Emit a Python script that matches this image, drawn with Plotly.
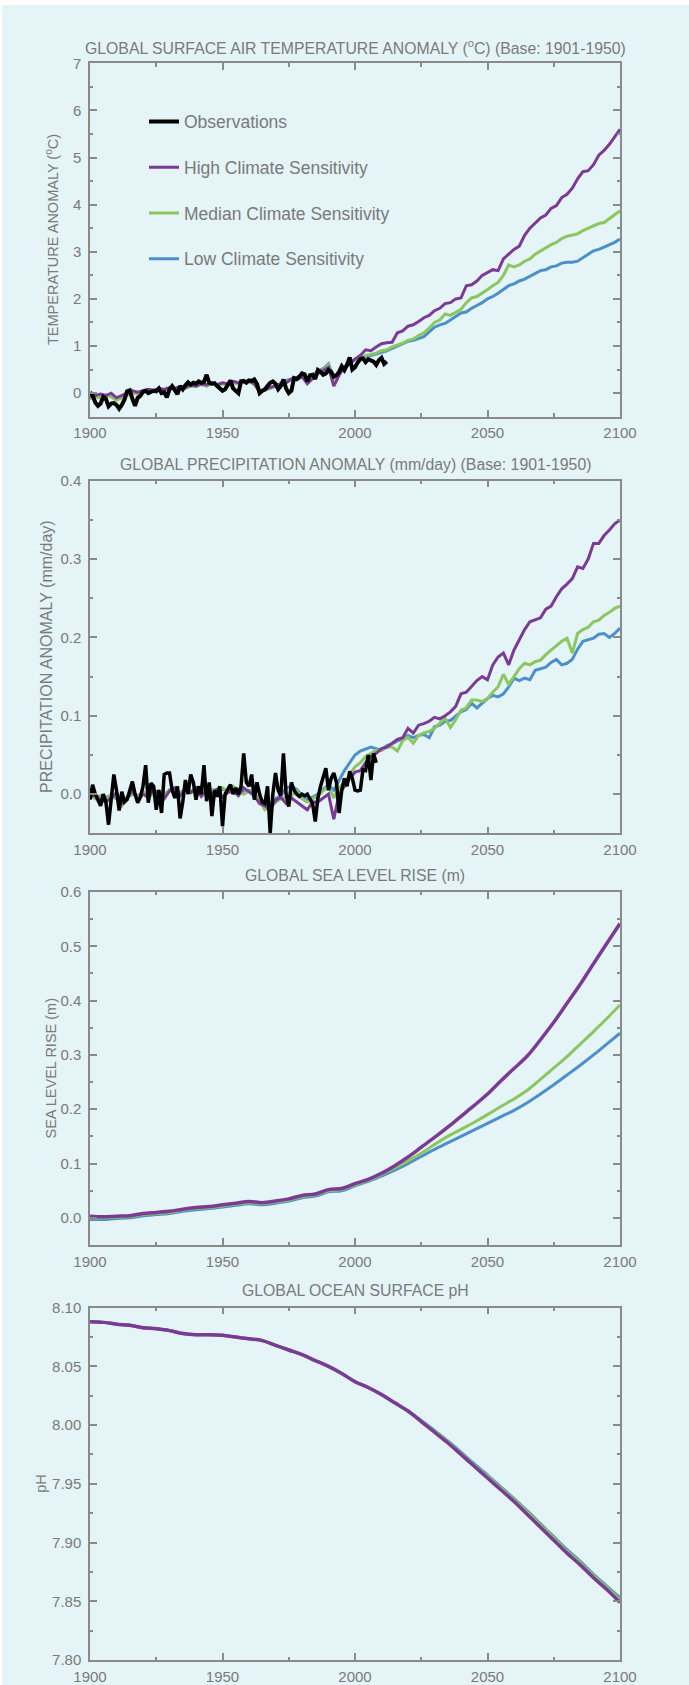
import plotly.graph_objects as go

W, H = 689, 1685

# ---------------- DATA ----------------
years2 = list(range(1900, 2101, 2))
obs_years_t = list(range(1900, 2013))
obs_temp = [0.02, -0.05, -0.2, -0.27, -0.22, -0.08, -0.12, -0.28, -0.22, -0.21,
            -0.25, -0.33, -0.25, -0.14, 0.04, 0.06, -0.12, -0.27, -0.1, -0.06,
            0.03, 0.05, 0.0, 0.02, 0.05, 0.04, 0.1, 0.0, 0.02, -0.09,
            0.08, 0.15, 0.08, -0.02, 0.15, 0.08, 0.17, 0.23, 0.18, 0.22,
            0.2, 0.25, 0.22, 0.24, 0.39, 0.22, 0.2, 0.21, 0.15, 0.11,
            0.05, 0.08, 0.2, 0.27, 0.1, 0.05, 0.0, 0.25, 0.26, 0.22,
            0.27, 0.26, 0.29, 0.2, 0.0, 0.05, 0.08, 0.15, 0.22, 0.25,
            0.2, 0.08, 0.15, 0.29, 0.1, 0.0, 0.05, 0.32, 0.3, 0.35,
            0.42, 0.4, 0.25, 0.38, 0.39, 0.3, 0.49, 0.45, 0.39, 0.42,
            0.49, 0.45, 0.35, 0.38, 0.45, 0.57, 0.49, 0.6, 0.76, 0.5,
            0.55, 0.65, 0.72, 0.74, 0.66, 0.72, 0.7, 0.67, 0.6, 0.7,
            0.75, 0.62, 0.67]

temp_high = [-0.08, -0.05, -0.02, -0.05, 0.0, -0.1, -0.05, 0.0, 0.05, 0.02,
             0.05, 0.08, 0.06, 0.1, 0.08, 0.12, 0.1, 0.14, 0.12, 0.18,
             0.15, 0.2, 0.18, 0.22, 0.18, 0.22, 0.2, 0.25, 0.22, 0.24,
             0.26, 0.2, 0.04, 0.08, 0.12, 0.15, 0.2, 0.22, 0.3, 0.28,
             0.35, 0.2, 0.32, 0.42, 0.48, 0.55, 0.15, 0.38, 0.55, 0.62,
             0.72, 0.8, 0.92, 0.9, 0.98, 1.05, 1.07, 1.08, 1.28, 1.32,
             1.42, 1.45, 1.52, 1.6, 1.65, 1.75, 1.8, 1.9, 1.92, 2.0,
             2.02, 2.28, 2.3, 2.38, 2.5, 2.56, 2.62, 2.6, 2.85, 2.95,
             3.05, 3.12, 3.35, 3.5, 3.62, 3.72, 3.78, 3.92, 3.98, 4.15,
             4.22, 4.35, 4.55, 4.7, 4.72, 4.85, 5.05, 5.15, 5.28, 5.45,
             5.6]
temp_med = [-0.12, -0.08, -0.1, -0.05, -0.08, -0.15, -0.1, -0.05, 0.0, -0.02,
            0.02, 0.05, 0.04, 0.08, 0.06, 0.1, 0.08, 0.12, 0.1, 0.15,
            0.14, 0.18, 0.16, 0.2, 0.17, 0.2, 0.18, 0.22, 0.2, 0.23,
            0.25, 0.18, 0.02, 0.06, 0.1, 0.14, 0.18, 0.25, 0.28, 0.32,
            0.38, 0.3, 0.36, 0.45, 0.5, 0.6, 0.3, 0.42, 0.55, 0.65,
            0.72, 0.75, 0.8, 0.82, 0.85, 0.9, 0.92, 0.98, 1.02, 1.06,
            1.12, 1.15, 1.22, 1.28, 1.38, 1.5, 1.55, 1.68, 1.65, 1.72,
            1.78, 1.92, 2.02, 2.05, 2.12, 2.2, 2.28, 2.35, 2.5, 2.72,
            2.68, 2.72, 2.8, 2.85, 2.95, 3.02, 3.08, 3.15, 3.2, 3.28,
            3.33, 3.36, 3.38, 3.45, 3.5, 3.54, 3.6, 3.62, 3.7, 3.78,
            3.87]
temp_low = [-0.1, -0.06, -0.08, -0.04, -0.05, -0.12, -0.08, -0.03, 0.02, 0.0,
            0.03, 0.06, 0.05, 0.09, 0.07, 0.11, 0.09, 0.13, 0.11, 0.16,
            0.15, 0.19, 0.15, 0.21, 0.18, 0.21, 0.19, 0.23, 0.21, 0.24,
            0.26, 0.2, 0.03, 0.07, 0.11, 0.15, 0.2, 0.27, 0.3, 0.33,
            0.4, 0.32, 0.38, 0.47, 0.52, 0.62, 0.32, 0.45, 0.56, 0.66,
            0.72, 0.74, 0.78, 0.8, 0.83, 0.86, 0.9, 0.95, 1.0, 1.05,
            1.1, 1.12, 1.16, 1.2, 1.3, 1.4, 1.45, 1.48, 1.55, 1.62,
            1.7, 1.72, 1.8, 1.86, 1.92, 2.0, 2.05, 2.12, 2.2, 2.28,
            2.32, 2.38, 2.42, 2.48, 2.55, 2.6, 2.62, 2.68, 2.7, 2.76,
            2.78, 2.78, 2.8, 2.88, 2.95, 3.02, 3.05, 3.1, 3.15, 3.2,
            3.27]

obs_years_p = list(range(1900, 2009))
obs_precip = [-0.007, 0.012, 0.0, -0.009, -0.015, 0.0, -0.01, -0.039, -0.005, 0.025,
              0.005, -0.021, 0.003, -0.01, -0.007, 0.006, 0.016, 0.0, -0.011, -0.004,
              0.01, 0.037, -0.011, 0.014, 0.01, -0.02, 0.005, -0.024, 0.025, 0.027,
              0.027, 0.005, -0.005, 0.01, -0.031, -0.01, 0.018, 0.0, 0.025, 0.015,
              -0.007, 0.01, 0.0, 0.037, -0.009, 0.015, -0.028, 0.005, -0.003, 0.01,
              -0.041, 0.0, 0.005, 0.012, 0.0, 0.008, 0.0, 0.01, 0.052, 0.015,
              0.01, 0.025, -0.007, 0.015, 0.0, -0.01, -0.012, 0.01, -0.05, 0.0,
              0.027, 0.005, -0.002, 0.052, 0.0, -0.016, 0.015, 0.005, 0.0, -0.003,
              0.0, -0.002, 0.0, -0.005, -0.012, -0.035, -0.005, 0.01, 0.02, 0.033,
              0.005, 0.02, 0.027, 0.015, -0.024, 0.005, 0.02, 0.01, 0.029, 0.02,
              0.005, 0.004, 0.005, 0.031, 0.03, 0.05, 0.018, 0.052, 0.04]

precip_high = [-0.005, 0.0, -0.008, -0.01, -0.005, 0.002, -0.012, -0.005, 0.005, -0.008,
               0.0, -0.004, 0.006, 0.0, -0.006, 0.004, 0.008, -0.002, 0.006, 0.002,
               0.008, -0.003, 0.005, 0.0, 0.006, -0.004, 0.002, 0.004, -0.002, 0.008,
               0.003, -0.002, -0.012, -0.015, -0.02, -0.008, -0.004, -0.012, -0.005, -0.01,
               -0.015, -0.02, -0.01, -0.01, -0.005, 0.0, -0.032, 0.0, 0.01, 0.02,
               0.028, 0.03, 0.04, 0.048, 0.052, 0.058, 0.06, 0.065, 0.07, 0.072,
               0.084, 0.078, 0.088, 0.09, 0.093, 0.098, 0.096, 0.1, 0.105, 0.112,
               0.128, 0.13, 0.138, 0.145, 0.15, 0.146, 0.165, 0.175, 0.18, 0.165,
               0.184, 0.197, 0.21, 0.22, 0.222, 0.225, 0.236, 0.24, 0.252, 0.262,
               0.268, 0.275, 0.29, 0.288, 0.3, 0.32, 0.32, 0.33, 0.337, 0.345,
               0.35]
precip_med = [0.0, -0.006, -0.002, -0.008, 0.0, -0.004, -0.015, -0.005, 0.002, -0.004,
              0.004, -0.006, 0.002, 0.005, -0.002, 0.006, 0.004, 0.0, 0.008, 0.004,
              0.003, 0.006, 0.002, 0.006, 0.004, 0.008, 0.003, 0.01, 0.005, 0.0,
              0.004, 0.0, -0.008, -0.02, -0.015, -0.01, -0.006, -0.004, -0.002, 0.004,
              -0.006, -0.01, -0.006, -0.002, 0.004, 0.01, -0.005, 0.008, 0.015, 0.025,
              0.035, 0.04, 0.048, 0.052, 0.056, 0.056, 0.06, 0.06, 0.055, 0.068,
              0.073, 0.065, 0.075, 0.078, 0.08, 0.084, 0.09, 0.097, 0.085, 0.095,
              0.107, 0.11, 0.12, 0.12, 0.118, 0.122, 0.13, 0.137, 0.153, 0.14,
              0.15, 0.16, 0.167, 0.165, 0.169, 0.171, 0.178, 0.184, 0.19, 0.195,
              0.199, 0.18, 0.205, 0.21, 0.213, 0.22, 0.222, 0.228, 0.232, 0.237,
              0.24]
precip_low = [-0.004, -0.002, -0.006, -0.004, -0.002, -0.006, -0.01, -0.004, 0.0, -0.002,
              0.002, -0.004, 0.004, 0.002, 0.0, 0.004, 0.006, 0.002, 0.006, 0.002,
              0.005, 0.004, 0.004, 0.005, 0.006, 0.006, 0.004, 0.008, 0.006, 0.002,
              0.005, 0.0, -0.006, -0.015, -0.012, -0.006, -0.002, 0.008, 0.01, 0.006,
              -0.002, -0.008, -0.004, 0.0, 0.006, 0.012, 0.005, 0.018, 0.03, 0.04,
              0.05, 0.055, 0.058, 0.06, 0.058, 0.056, 0.062, 0.064, 0.068, 0.07,
              0.075, 0.072, 0.075, 0.076, 0.072, 0.086, 0.088, 0.093, 0.094, 0.1,
              0.105, 0.108, 0.116, 0.11, 0.116, 0.122, 0.126, 0.124, 0.128, 0.137,
              0.148, 0.145, 0.148, 0.146, 0.158, 0.16, 0.162, 0.168, 0.172, 0.165,
              0.167, 0.172, 0.185, 0.195, 0.197, 0.199, 0.204, 0.205, 0.2, 0.205,
              0.212]

years5 = list(range(1900, 2101, 5))
sea_high = [0.003, 0.002, 0.003, 0.004, 0.008, 0.01, 0.012, 0.016, 0.019, 0.021,
            0.024, 0.027, 0.03, 0.028, 0.031, 0.035, 0.041, 0.044, 0.052, 0.054,
            0.063, 0.071, 0.082, 0.096, 0.112, 0.13, 0.148, 0.167, 0.187, 0.207,
            0.228, 0.252, 0.275, 0.298, 0.328, 0.36, 0.395, 0.43, 0.468, 0.505,
            0.542]
sea_med = [0.0, 0.0, 0.001, 0.002, 0.006, 0.008, 0.01, 0.014, 0.017, 0.019,
           0.022, 0.025, 0.028, 0.026, 0.029, 0.033, 0.039, 0.042, 0.05, 0.052,
           0.061, 0.069, 0.08, 0.092, 0.105, 0.119, 0.135, 0.15, 0.163, 0.176,
           0.19, 0.205, 0.219, 0.235, 0.255, 0.276, 0.297, 0.32, 0.343, 0.367,
           0.392]
sea_low = [-0.003, -0.003, -0.001, 0.0, 0.004, 0.006, 0.008, 0.012, 0.015, 0.017,
           0.02, 0.023, 0.026, 0.024, 0.027, 0.031, 0.037, 0.04, 0.048, 0.05,
           0.059, 0.067, 0.077, 0.088, 0.1, 0.113, 0.126, 0.138, 0.15, 0.162,
           0.174, 0.186, 0.198, 0.212, 0.228, 0.245, 0.263, 0.281, 0.3, 0.32,
           0.34]

ph_high = [8.088, 8.0875, 8.086, 8.085, 8.083, 8.082, 8.0805, 8.078, 8.077, 8.077,
           8.0765, 8.075, 8.0735, 8.072, 8.068, 8.064, 8.06, 8.055, 8.05, 8.044,
           8.037, 8.032, 8.026, 8.019, 8.012, 8.003, 7.994, 7.985, 7.975, 7.965,
           7.955, 7.945, 7.935, 7.924, 7.913, 7.902, 7.891, 7.881, 7.870, 7.860,
           7.849]
ph_med = [8.088, 8.0875, 8.086, 8.085, 8.083, 8.082, 8.0805, 8.078, 8.077, 8.077,
          8.0765, 8.075, 8.0735, 8.072, 8.068, 8.064, 8.06, 8.055, 8.05, 8.044,
          8.037, 8.032, 8.026, 8.019, 8.012, 8.0035, 7.995, 7.986, 7.976, 7.966,
          7.9565, 7.9465, 7.9365, 7.926, 7.915, 7.904, 7.893, 7.883, 7.872, 7.862,
          7.851]
ph_low = [8.088, 8.0875, 8.086, 8.085, 8.083, 8.082, 8.0805, 8.078, 8.077, 8.077,
          8.0765, 8.075, 8.0735, 8.072, 8.068, 8.064, 8.06, 8.055, 8.05, 8.044,
          8.037, 8.032, 8.026, 8.019, 8.012, 8.004, 7.9955, 7.9865, 7.977, 7.967,
          7.9575, 7.9475, 7.9375, 7.927, 7.916, 7.905, 7.894, 7.884, 7.873, 7.863,
          7.853]

titles = ["GLOBAL SURFACE AIR TEMPERATURE ANOMALY (<sup>o</sup>C) (Base: 1901-1950)",
          "GLOBAL PRECIPITATION ANOMALY (mm/day) (Base: 1901-1950)",
          "GLOBAL SEA LEVEL RISE (m)",
          "GLOBAL OCEAN SURFACE pH"]
ytitles = ["TEMPERATURE ANOMALY (<sup>o</sup>C)", "PRECIPITATION ANOMALY (mm/day)",
           "SEA LEVEL RISE (m)", "pH"]
names = ["Observations", "High Climate Sensitivity", "Median Climate Sensitivity",
         "Low Climate Sensitivity"]

# ---------------- STYLE ----------------
BG = "#e4f4f7"
C_HIGH = "#7b3a96"
C_MED = "#8bc65e"
C_LOW = "#4b8fcb"
C_OBS = "#000000"
AX = "#8a8a8a"
TXT = "#7a7a7a"
FONT = "Liberation Sans, Arial, sans-serif"

def py(px):
    return 1 - px / H

XL, XR = 90, 620
panels = [  # (top px, bottom px)
    (63.3, 416.7),
    (480.7, 833.3),
    (892.0, 1245.0),
    (1307.7, 1660.0),
]
title_y = [47.3, 464.0, 875.0, 1290.0]
ytitle_x = [52, 46, 50, 41]
ytitle_size = [14.5, 16, 14.5, 14.5]

fig = go.Figure()

def add(xs, ys, color, width, k, name, legend=False, rank=None, shape="linear"):
    fig.add_trace(go.Scatter(
        x=xs, y=ys, mode="lines", name=name,
        line=dict(color=color, width=width, shape=shape),
        xaxis="x" if k == 1 else f"x{k}", yaxis="y" if k == 1 else f"y{k}",
        showlegend=legend, legendgroup=name if legend else None,
        legendrank=rank if rank else 1000, hoverinfo="skip"))

# Panel 1
add(years2, temp_low, C_LOW, 3, 1, names[3], True, 4)
add(years2, temp_med, C_MED, 3, 1, names[2], True, 3)
add(years2, temp_high, C_HIGH, 3, 1, names[1], True, 2)
add(obs_years_t, obs_temp, C_OBS, 4, 1, names[0], True, 1)
# Panel 2
add(years2, precip_low, C_LOW, 3, 2, names[3])
add(years2, precip_med, C_MED, 3, 2, names[2])
add(years2, precip_high, C_HIGH, 3, 2, names[1])
add(obs_years_p, obs_precip, C_OBS, 3.5, 2, names[0])
# Panel 3
add(years5, sea_low, C_LOW, 3, 3, names[3], shape="spline")
add(years5, sea_med, C_MED, 3, 3, names[2], shape="spline")
add(years5, sea_high, C_HIGH, 3.5, 3, names[1], shape="spline")
# Panel 4
add(years5, ph_low, C_LOW, 3, 4, names[3], shape="spline")
add(years5, ph_med, C_MED, 3, 4, names[2], shape="spline")
add(years5, ph_high, C_HIGH, 3.5, 4, names[1], shape="spline")

yranges = [[-0.5, 7], [-0.05, 0.4], [-0.05, 0.6], [7.80, 8.10]]
ydticks = [1, 0.1, 0.1, 0.05]
yminor = [0.5, 0.05, 0.05, 0.025]
yfmt = ["d", ".1f", ".1f", ".2f"]
yt0 = [0, 0, 0, 7.80]

layout = dict(
    width=W, height=H, margin=dict(l=0, r=0, t=0, b=0, pad=0, autoexpand=False),
    paper_bgcolor="white", plot_bgcolor=BG,
    font=dict(family=FONT, color=TXT, size=14),
    showlegend=True,
    legend=dict(x=144 / W, y=py(103.5), xanchor="left", yanchor="top",
                bgcolor="rgba(0,0,0,0)", font=dict(size=17.5, color=TXT),
                tracegroupgap=20, itemwidth=30),
    shapes=[dict(type="rect", xref="paper", yref="paper", x0=2 / W, x1=1,
                 y0=0, y1=py(5), fillcolor=BG, line=dict(width=0), layer="below")],
    annotations=[],
)

for i, (top, bot) in enumerate(panels):
    k = i + 1
    xn = "xaxis" if k == 1 else f"xaxis{k}"
    yn = "yaxis" if k == 1 else f"yaxis{k}"
    layout[xn] = dict(
        domain=[XL / W, XR / W], range=[1900, 2100], anchor="y" if k == 1 else f"y{k}",
        tick0=1900, dtick=50, ticks="inside", ticklen=7, tickwidth=1.5, tickcolor=AX,
        showline=True, linecolor=AX, linewidth=1.5, mirror="allticks",
        showgrid=False, zeroline=False, ticklabelstandoff=2, automargin=False,
        minor=dict(dtick=25, tick0=1900, ticks="inside", ticklen=3.5, tickcolor=AX, tickwidth=1.5),
        tickfont=dict(size=15, color=TXT), fixedrange=True,
    )
    layout[yn] = dict(
        domain=[py(bot), py(top)], range=yranges[i], anchor="x" if k == 1 else f"x{k}",
        tick0=yt0[i], dtick=ydticks[i], tickformat=yfmt[i],
        ticks="inside", ticklen=7, tickwidth=1.5, tickcolor=AX,
        showline=True, linecolor=AX, linewidth=1.5, mirror="allticks",
        showgrid=False, zeroline=False, ticklabelstandoff=4, automargin=False,
        minor=dict(dtick=yminor[i], tick0=yt0[i], ticks="inside", ticklen=3.5, tickcolor=AX, tickwidth=1.5),
        tickfont=dict(size=15, color=TXT), fixedrange=True,
    )
    layout["annotations"].append(dict(
        text=titles[i], x=(XL + XR) / 2 / W, y=py(title_y[i]), xref="paper", yref="paper",
        xanchor="center", yanchor="middle", showarrow=False,
        font=dict(size=15.8, color=TXT)))
    layout["annotations"].append(dict(
        text=ytitles[i], x=ytitle_x[i] / W, y=py((top + bot) / 2), xref="paper", yref="paper",
        xanchor="center", yanchor="middle", showarrow=False, textangle=-90,
        font=dict(size=ytitle_size[i], color=TXT)))

fig.update_layout(**layout)
fig.write_html("out.html")
